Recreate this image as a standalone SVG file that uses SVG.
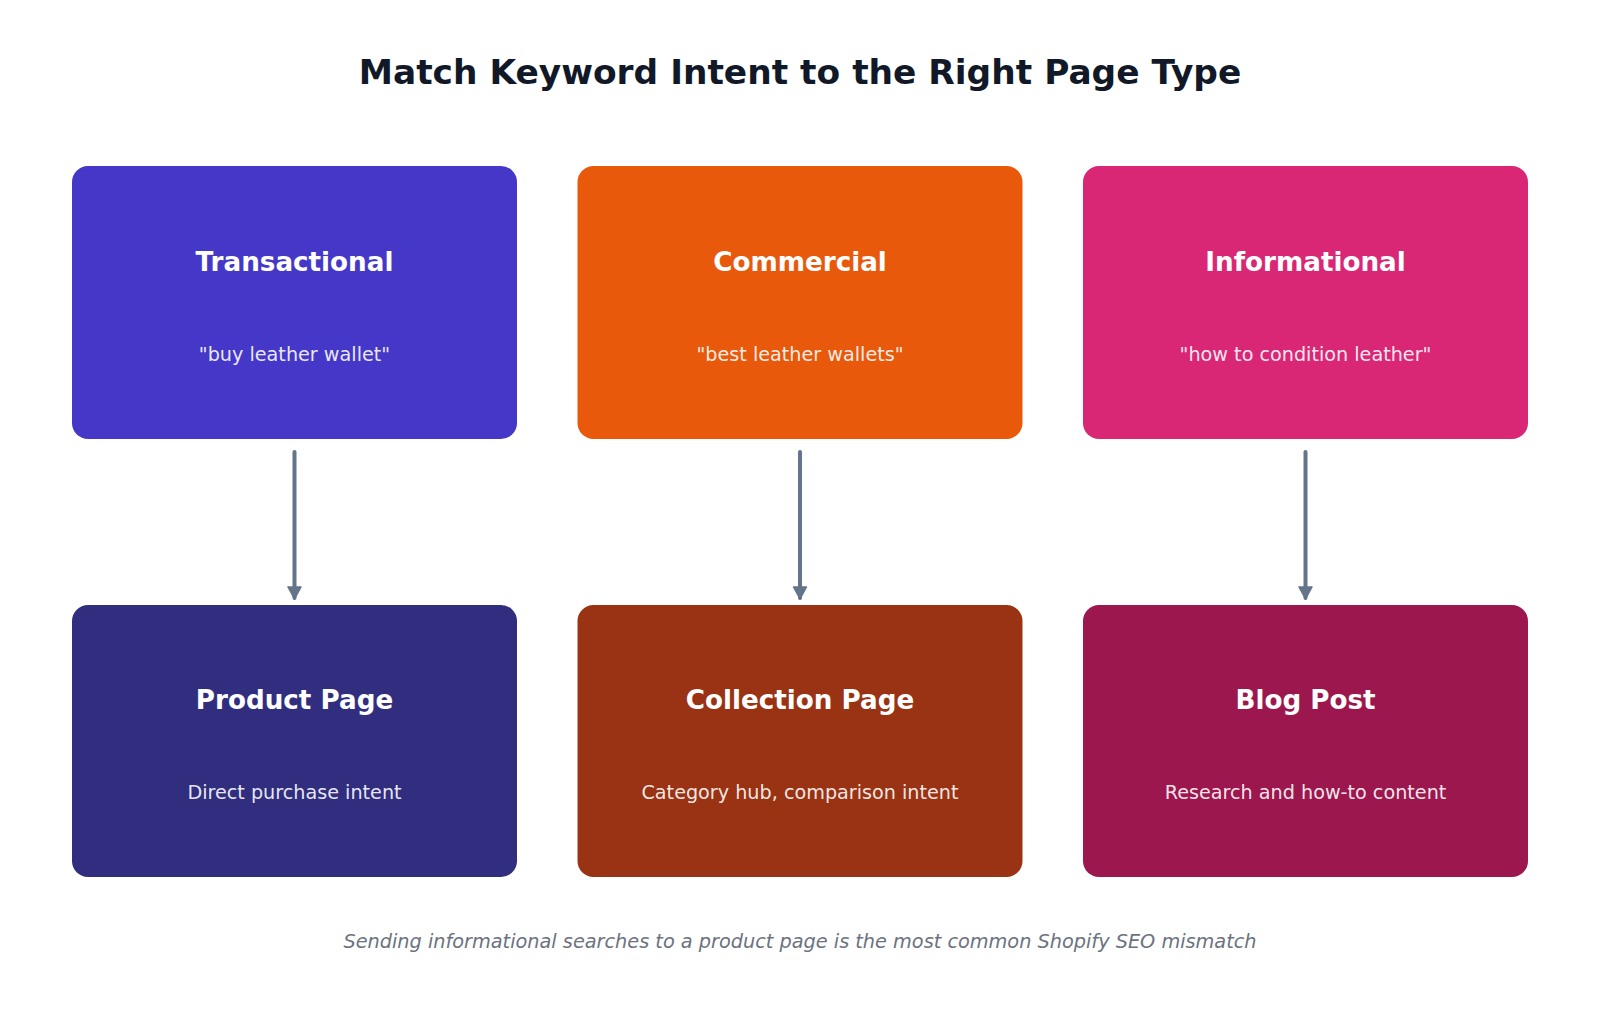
<svg xmlns="http://www.w3.org/2000/svg" width="1600" height="1018" viewBox="0 0 1600 1018">
  <style>
    .title { font-family: "DejaVu Sans", "Liberation Sans", sans-serif; font-weight: bold; font-size: 34.4px; fill: #111827; text-anchor: middle; }
    .ntitle { font-family: "DejaVu Sans", "Liberation Sans", sans-serif; font-weight: bold; font-size: 26.2px; fill: #ffffff; text-anchor: middle; }
    .nsub { font-family: "DejaVu Sans", "Liberation Sans", sans-serif; font-size: 19.2px; fill: #ffffff; fill-opacity: 0.9; text-anchor: middle; }
    .foot { font-family: "DejaVu Sans", "Liberation Sans", sans-serif; font-style: italic; font-size: 19.3px; fill: #6b7280; text-anchor: middle; }
    .conn { stroke: #64748b; stroke-width: 4; stroke-linecap: round; fill: none; }
  </style>
  <defs>
    <marker id="arrow" markerWidth="16" markerHeight="16" refX="12" refY="8" orient="auto" markerUnits="userSpaceOnUse">
      <path d="M1,1.5 L13,8 L1,14.5 Z" fill="#64748b" stroke="#64748b" stroke-width="1.5" stroke-linejoin="round"/>
    </marker>
  </defs>
  <rect x="0" y="0" width="1600" height="1018" fill="#ffffff"/>
  <text class="title" x="800" y="84">Match Keyword Intent to the Right Page Type</text>

  <g id="connectors">
    <line class="conn" x1="294.5" y1="452" x2="294.5" y2="598" marker-end="url(#arrow)"/>
    <line class="conn" x1="800" y1="452" x2="800" y2="598" marker-end="url(#arrow)"/>
    <line class="conn" x1="1305.5" y1="452" x2="1305.5" y2="598" marker-end="url(#arrow)"/>
  </g>

  <g id="transactional">
    <rect x="72" y="166" width="445" height="273" rx="16" fill="#4538c9"/>
    <text class="ntitle" x="294.5" y="271">Transactional</text>
    <text class="nsub" x="294.5" y="361">"buy leather wallet"</text>
  </g>
  <g id="commercial">
    <rect x="577.5" y="166" width="445" height="273" rx="16" fill="#e8590c"/>
    <text class="ntitle" x="800" y="271">Commercial</text>
    <text class="nsub" x="800" y="361">"best leather wallets"</text>
  </g>
  <g id="informational">
    <rect x="1083" y="166" width="445" height="273" rx="16" fill="#d92776"/>
    <text class="ntitle" x="1305.5" y="271">Informational</text>
    <text class="nsub" x="1305.5" y="361">"how to condition leather"</text>
  </g>
  <g id="product-page">
    <rect x="72" y="605" width="445" height="272" rx="16" fill="#312e7f"/>
    <text class="ntitle" x="294.5" y="709">Product Page</text>
    <text class="nsub" x="294.5" y="799">Direct purchase intent</text>
  </g>
  <g id="collection-page">
    <rect x="577.5" y="605" width="445" height="272" rx="16" fill="#9a3313"/>
    <text class="ntitle" x="800" y="709">Collection Page</text>
    <text class="nsub" x="800" y="799">Category hub, comparison intent</text>
  </g>
  <g id="blog-post">
    <rect x="1083" y="605" width="445" height="272" rx="16" fill="#9c174e"/>
    <text class="ntitle" x="1305.5" y="709">Blog Post</text>
    <text class="nsub" x="1305.5" y="799">Research and how-to content</text>
  </g>

  <text class="foot" x="800" y="948">Sending informational searches to a product page is the most common Shopify SEO mismatch</text>
</svg>
